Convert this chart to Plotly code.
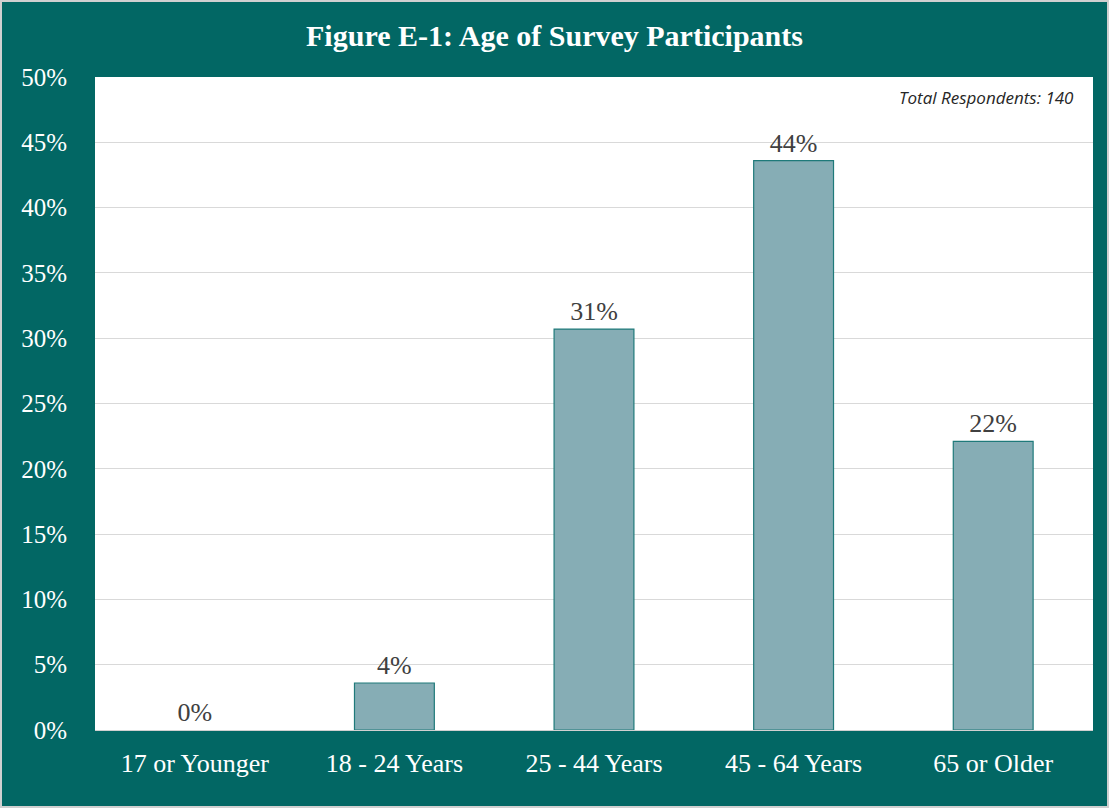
import plotly.graph_objects as go

categories = ["17 or Younger", "18 - 24 Years", "25 - 44 Years", "45 - 64 Years", "65 or Older"]
values = [0.0, 3.6, 30.7, 43.6, 22.1]
labels = ["0%", "4%", "31%", "44%", "22%"]
y_ticks = [0, 5, 10, 15, 20, 25, 30, 35, 40, 45, 50]
y_tick_labels = [f"{v}%" for v in y_ticks]

TEAL = "#026764"
SERIF = "Liberation Serif, DejaVu Serif, serif"

W, H = 1109, 808
ml, mr, mt, mb = 95, 16, 77, 78

line_widths = [0 if v == 0 else 1.2 for v in values]

fig = go.Figure(go.Bar(
    x=categories, y=values, text=labels, textposition="outside",
    textfont=dict(family=SERIF, size=26, color="#404040"),
    marker=dict(color="#86adb5", line=dict(color="#1f7a7a", width=line_widths)),
    cliponaxis=False, hoverinfo="skip",
))

pw = W - ml - mr
ph = H - mt - mb
fig.update_layout(
    width=W, height=H,
    margin=dict(l=ml, r=mr, t=mt, b=mb, pad=0),
    paper_bgcolor=TEAL, plot_bgcolor="white",
    bargap=0.6, showlegend=False,
    title=dict(text="<b>Figure E-1: Age of Survey Participants</b>", x=0.5, xanchor="center",
               y=1 - 35 / H, yanchor="middle",
               font=dict(family=SERIF, size=30, color="white")),
    xaxis=dict(tickfont=dict(family=SERIF, size=26, color="white"), showgrid=False,
               showline=True, linecolor="#d0d0d0", linewidth=1,
               ticks="outside", ticklen=10, tickcolor=TEAL, automargin=False),
    yaxis=dict(range=[0, 50], tickvals=y_ticks, ticktext=y_tick_labels,
               tickfont=dict(family=SERIF, size=25, color="white"),
               showgrid=True, gridcolor="#d9d9d9", gridwidth=1, zeroline=False,
               ticks="outside", ticklen=22, tickcolor=TEAL, automargin=False),
    annotations=[dict(text="<i>Total Respondents: 140</i>", xref="paper", yref="paper",
                      x=1 - 17 / pw, y=1 - 20 / ph, xanchor="right", yanchor="middle",
                      showarrow=False,
                      font=dict(family="Open Sans, Noto Sans, sans-serif", size=17, color="#262626"))],
    shapes=[dict(type="rect", xref="paper", yref="paper",
                 x0=-(ml - 1) / pw, x1=1 + (mr - 1) / pw,
                 y0=-(mb - 1) / ph, y1=1 + (mt - 1) / ph,
                 line=dict(color="#d0d0d0", width=2), layer="above")],
)

fig.write_html("out.html", config={"displayModeBar": False},
               post_script="document.body.style.margin='0';document.body.style.overflow='hidden';")
